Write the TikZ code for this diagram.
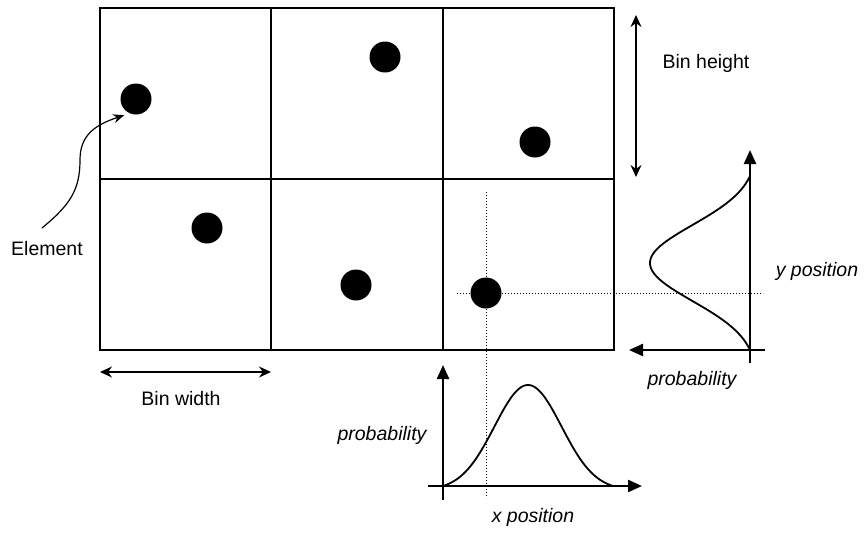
\documentclass[tikz,border=0pt]{standalone}
\usepackage{fontspec}
\setmainfont{Liberation Sans}
\usetikzlibrary{arrows.meta,calc}
\begin{document}
\begin{tikzpicture}[x=1pt,y=-1pt,
  grid/.style={line width=2.5pt},
  dot/.style={circle,fill=black,inner sep=0pt,minimum size=31pt},
  axis/.style={line width=2.3pt,-{Triangle[length=14pt,width=12pt]}},
  dim/.style={line width=1.3pt,{Stealth[length=12pt,width=11pt]}-{Stealth[length=12pt,width=11pt]}},
  curve/.style={line width=1.8pt},
  guide/.style={line width=1pt,dotted},
  lbl/.style={inner sep=0pt,font=\fontsize{19.5}{23}\selectfont},
  ilbl/.style={lbl,font=\fontsize{19.5}{23}\selectfont\itshape}]
\useasboundingbox (0,0) rectangle (864,533);
% grid
\draw[grid] (100,8) rectangle (614,350);
\draw[grid] (100,179) -- (614,179);
\draw[grid] (271,8) -- (271,350);
\draw[grid] (443,8) -- (443,350);
% dots
\node[dot] (d1) at (136,99) {};
\node[dot] (d2) at (385,57) {};
\node[dot] (d3) at (535,142) {};
\node[dot] (d4) at (207,228) {};
\node[dot] (d5) at (356,285) {};
% guides
\coordinate (vt) at (486,192);
\coordinate (vb) at (486,498);
\coordinate (hl) at (457,293);
\coordinate (hr) at (763,293);
\draw[guide] (vt) -- (vb);
\draw[guide] (hl) -- (hr);
\node[dot] (d6) at (486,293) {};
% dimension arrows
\coordinate (bw1) at (100,372);
\coordinate (bw2) at (271,372);
\draw[dim] (bw1) -- (bw2);
\node[lbl] (bwl) at (181,399) {Bin width};
\coordinate (bh1) at (636,15);
\coordinate (bh2) at (636,177);
\draw[dim] (bh1) -- (bh2);
\node[lbl] (bhl) at (706,63) {Bin height};
% element
\node[lbl] (el) at (47,249) {Element};
\coordinate (es) at (42,228);
\draw[line width=1.2pt,-{Stealth[length=11pt,width=9pt]}] (es) .. controls (70,205) and (80,190) .. (80,160)
   .. controls (80,135) and (95,125) .. ($(d1)!20pt!(es)$);
% y-distribution
\coordinate (ya0) at (750,363);
\coordinate (ya1) at (750,150);
\coordinate (yb0) at (765,350);
\coordinate (yb1) at (629,350);
\draw[axis] (ya0) -- (ya1);
\draw[axis] (yb0) -- (yb1);
\draw[curve] plot[domain=176:350,samples=90,smooth] ({750-100*(exp(-((\x-263)^2)/2888)-0.0727)/0.9273},\x);
\node[ilbl] (yp) at (817,271) {y position};
\node[ilbl] (pr1) at (692,380) {probability};
% x-distribution
\coordinate (xa0) at (443,500);
\coordinate (xa1) at (443,365);
\coordinate (xb0) at (428,486);
\coordinate (xb1) at (642,486);
\draw[axis] (xa0) -- (xa1);
\draw[axis] (xb0) -- (xb1);
\draw[curve] plot[domain=443:613,samples=90,smooth] (\x,{486-101*(exp(-((\x-528)^2)/2244)-0.04)/0.96});
\node[ilbl] (xp) at (533,517) {x position};
\node[ilbl] (pr2) at (382,435) {probability};
\end{tikzpicture}
\end{document}
